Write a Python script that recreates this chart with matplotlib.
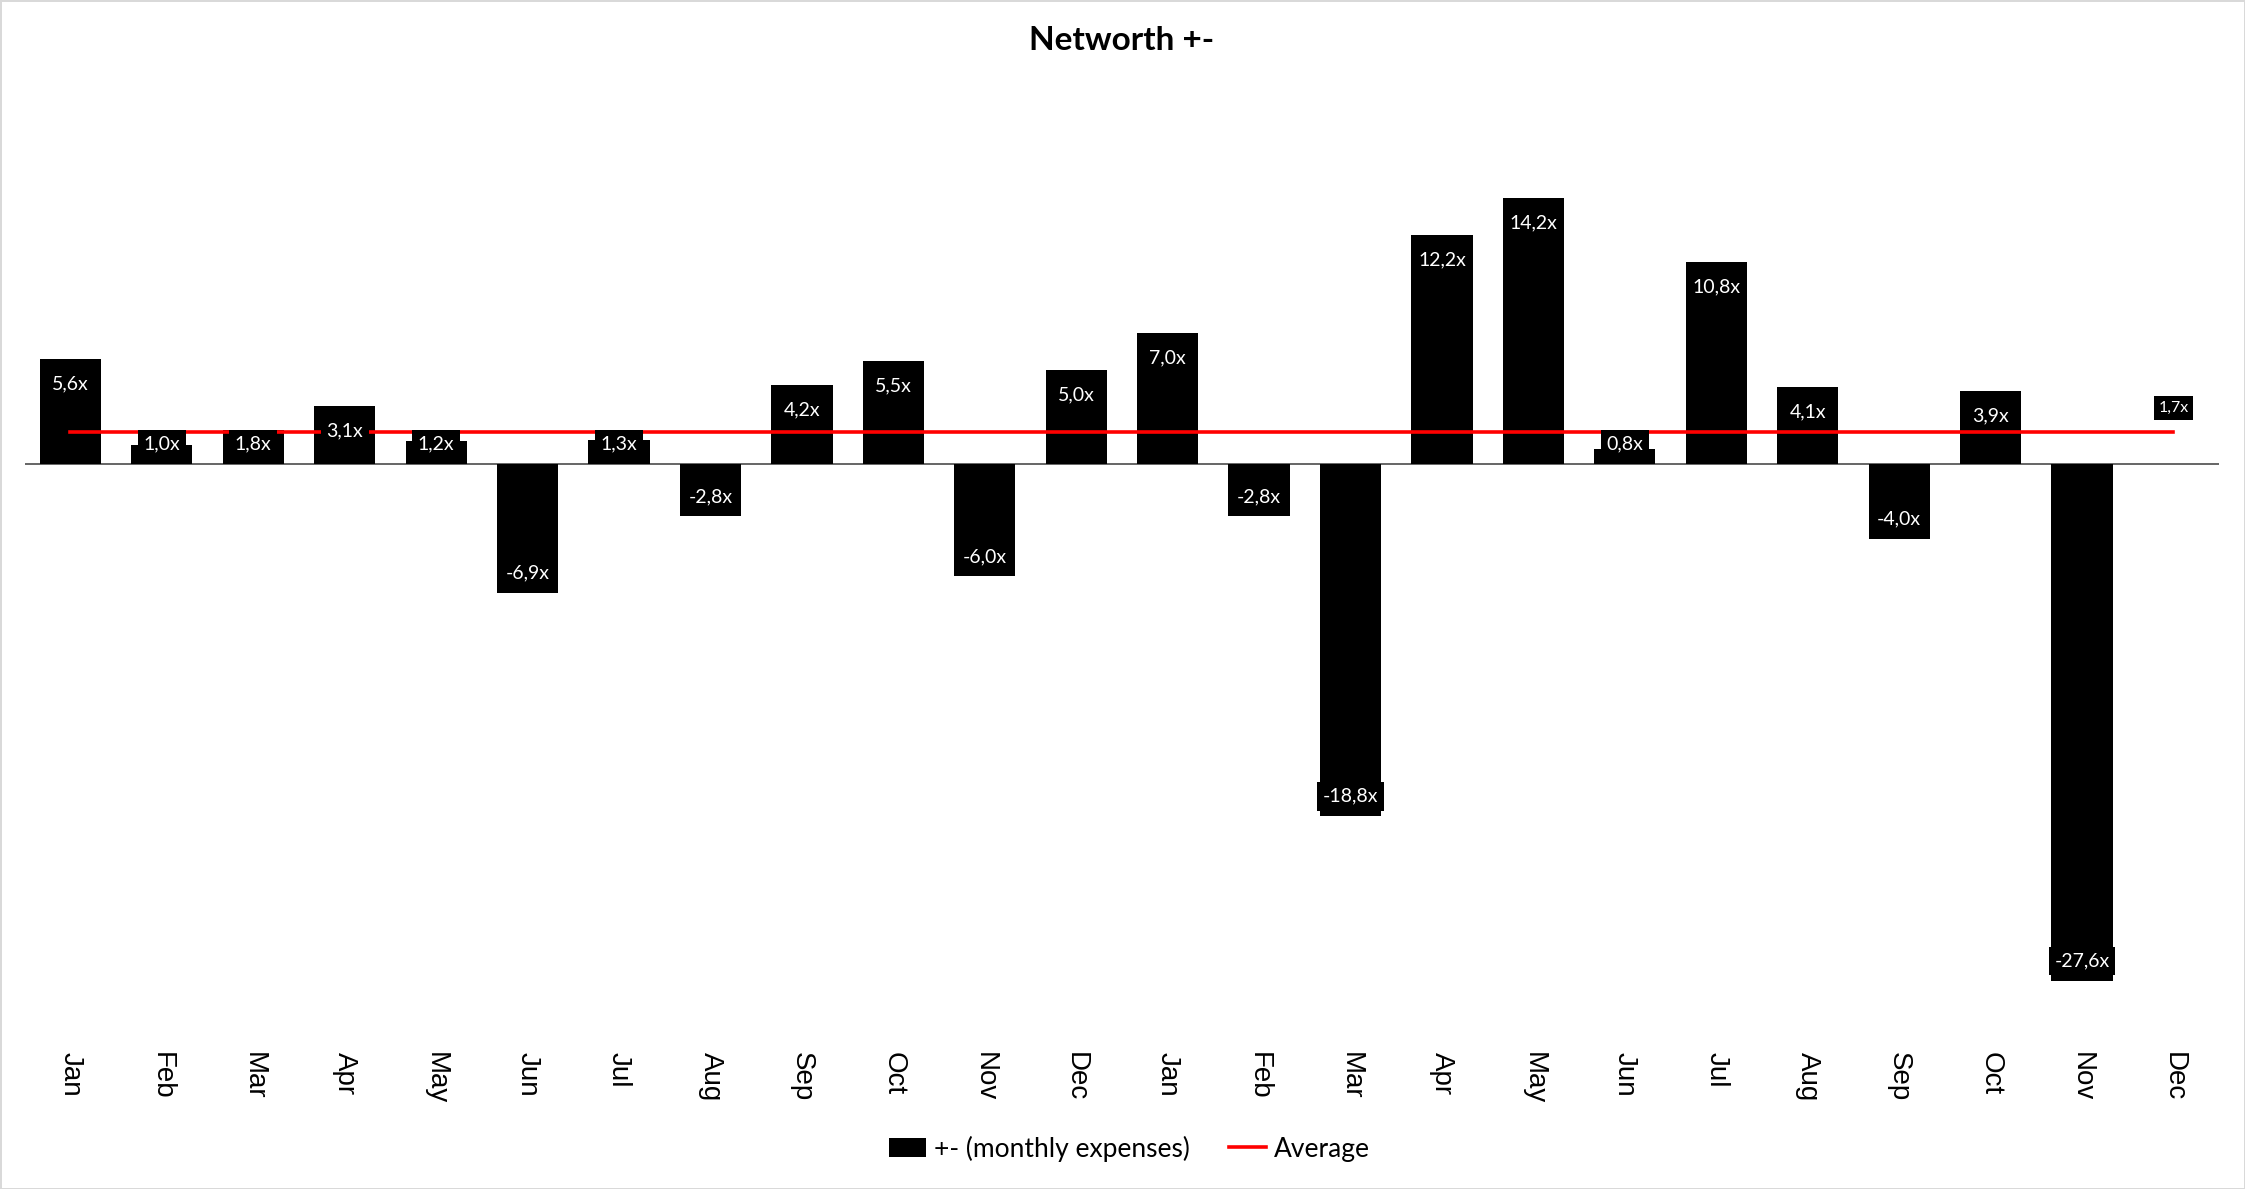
import matplotlib.pyplot as plt
import numpy as np
from matplotlib.patches import Patch
from matplotlib.lines import Line2D

months = ["Jan", "Feb", "Mar", "Apr", "May", "Jun", "Jul", "Aug", "Sep", "Oct", "Nov", "Dec",
          "Jan", "Feb", "Mar", "Apr", "May", "Jun", "Jul", "Aug", "Sep", "Oct", "Nov", "Dec"]
# net worth change expressed in monthly expenses (last month has no value yet)
change = [5.6, 1.0, 1.8, 3.1, 1.2, -6.9, 1.3, -2.8, 4.2, 5.5, -6.0, 5.0,
          7.0, -2.8, -18.8, 12.2, 14.2, 0.8, 10.8, 4.1, -4.0, 3.9, -27.6, np.nan]
average = 1.7

W, H, DPI = 22.45, 11.89, 100
fig = plt.figure(figsize=(W, H), dpi=DPI, facecolor="white",
                 edgecolor="#d9d9d9", linewidth=2)
ax = fig.add_axes([0.011, 0.137, 0.9775, 0.788])

x = np.arange(len(months))
vals = np.array(change, dtype=float)

ax.bar(x, vals, width=0.67, color="black", zorder=2)
ax.plot([x[0], x[-1]], [average, average], color="#ff0000", lw=2.6, zorder=3)
ax.axhline(0, color="#595959", lw=1.3, zorder=1)

ax.set_xlim(-0.5, len(months) - 0.5)
ax.set_ylim(-30, 20)

# pixel -> data units for label placement (inside end, clamped at the base)
ax_h_px = 0.788 * H * DPI
upp = 50 / ax_h_px

lbl_font = "Lato"
for xi, v in zip(x, vals):
    if np.isnan(v):
        continue
    if v >= 0:
        yc = max(v - 25 * upp, 20 * upp)
    else:
        yc = min(v + 20 * upp, -19 * upp)
    ax.text(xi, yc, f"{v:.1f}x".replace(".", ","), color="white", fontsize=14,
            family=lbl_font, ha="center", va="center", zorder=4,
            bbox=dict(boxstyle="square,pad=0.3", fc="black", ec="none"))

# average label on the last point
ax.text(x[-1], average + 24 * upp, f"{average:.1f}x".replace(".", ","), color="white",
        fontsize=11.5, family=lbl_font, ha="center", va="center", zorder=4,
        bbox=dict(boxstyle="square,pad=0.3", fc="black", ec="none"))

ax.set_xticks(x)
ax.set_xticklabels(months, rotation=-90, fontsize=20, family="Liberation Sans", va="top")
ax.tick_params(axis="x", length=0, pad=19)
ax.set_yticks([])
for s in ax.spines.values():
    s.set_visible(False)

fig.text(0.4995, 0.966, "Networth +-", ha="center", va="center", fontsize=24,
         fontweight="bold", family=lbl_font)

handles = [Patch(facecolor="black", edgecolor="none", label="+- (monthly expenses)"),
           Line2D([0], [0], color="#ff0000", lw=2.6, label="Average")]
fig.legend(handles=handles, loc="center", bbox_to_anchor=(0.503, 0.034), ncol=2,
           frameon=False, prop={"family": lbl_font, "size": 19},
           handlelength=1.4, handletextpad=0.3, columnspacing=1.5)

fig.savefig("out.png", dpi=DPI, facecolor="white", edgecolor="#d9d9d9")
